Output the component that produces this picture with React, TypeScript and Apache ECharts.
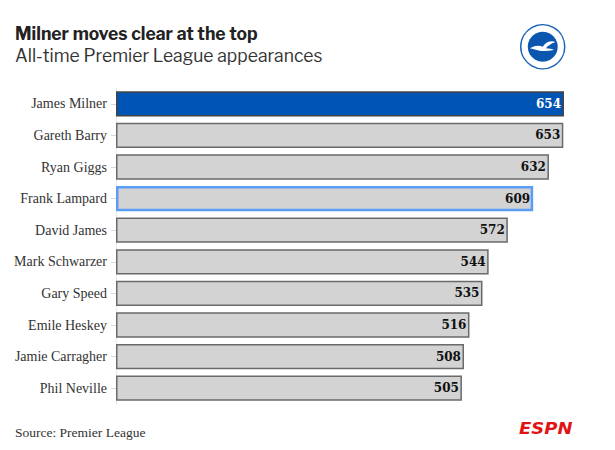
import React, { useEffect, useRef } from "react";
import * as echarts from "echarts";

const players = [
  "James Milner",
  "Gareth Barry",
  "Ryan Giggs",
  "Frank Lampard",
  "David James",
  "Mark Schwarzer",
  "Gary Speed",
  "Emile Heskey",
  "Jamie Carragher",
  "Phil Neville",
];
const appearances = [654, 653, 632, 609, 572, 544, 535, 516, 508, 505];
const highlightIndex = 0;
const outlineIndex = 3;

const titleText = "Milner moves clear at the top";
const subtitleText = "All-time Premier League appearances";
const sourceText = "Source: Premier League";

const gullPath =
  "M-16,2 C-10,-2 -4,-2 0,0 C4,-6 10,-8 16,-6 C10,-4 6,-1 4,2 C8,2 12,3 14,4 C8,5 2,6 -4,5 C-8,4 -12,3 -16,2 Z";
echarts.graphic.registerShape("gull", echarts.graphic.extendPath(gullPath as any, {}) as any);

export default function App() {
  const ref = useRef<HTMLDivElement>(null);
  useEffect(() => {
    if (!ref.current) return;
    const chart = echarts.init(ref.current, null, { renderer: "svg" });
    const data = appearances.map((v, i) => {
      if (i === highlightIndex) {
        return {
          value: v,
          itemStyle: { color: "#0054b4", borderColor: "#444", borderWidth: 1.5 },
          label: { color: "#ffffff" },
        };
      }
      if (i === outlineIndex) {
        return {
          value: v,
          itemStyle: { color: "#d3d3d3", borderColor: "#5b9cf6", borderWidth: 2.5 },
        };
      }
      return { value: v };
    });
    chart.setOption({
      animation: false,
      backgroundColor: "#ffffff",
      grid: { left: 116, right: 51, top: 88, bottom: 46, containLabel: false },
      xAxis: {
        type: "value",
        min: 0,
        max: 654,
        show: false,
      },
      yAxis: {
        type: "category",
        data: players,
        inverse: true,
        axisLine: { show: true, lineStyle: { color: "#e8e8e8", width: 1 } },
        axisTick: { show: true, length: 5, lineStyle: { color: "#d8d8d8" }, alignWithLabel: true },
        axisLabel: {
          fontFamily: "Liberation Serif, serif",
          fontSize: 14,
          color: "#333",
          margin: 9,
        },
      },
      series: [
        {
          type: "bar",
          data,
          barCategoryGap: "20%",
          itemStyle: { color: "#d3d3d3", borderColor: "#6a6a6a", borderWidth: 1.5 },
          label: {
            show: true,
            position: "insideRight",
            distance: 3,
            fontFamily: "DejaVu Serif, serif",
            fontWeight: "bold",
            fontSize: 12,
            color: "#111",
          },
        },
      ],
      graphic: [
        {
          type: "text",
          left: 15,
          top: 24,
          style: {
            text: titleText,
            fontFamily: "Libre Franklin, Inter, sans-serif",
            fontWeight: "bold",
            fontSize: 17.5,
            fill: "#222",
          },
        },
        {
          type: "text",
          left: 15,
          top: 46,
          style: {
            text: subtitleText,
            fontFamily: "Libre Franklin, Inter, sans-serif",
            fontSize: 17.5,
            fill: "#333",
          },
        },
        {
          type: "group",
          left: 520,
          top: 24,
          children: [
            { type: "circle", shape: { cx: 23, cy: 23, r: 22 }, style: { fill: "#ffffff", stroke: "#1a64b8", lineWidth: 1.5 } },
            { type: "circle", shape: { cx: 23, cy: 23, r: 15 }, style: { fill: "#0b57b0" } },
            { type: "gull", x: 23, y: 23, scaleX: 0.8, scaleY: 0.8, style: { fill: "#ffffff" } },
          ],
        },
        {
          type: "text",
          left: 15,
          top: 425,
          style: {
            text: sourceText,
            fontFamily: "Liberation Serif, serif",
            fontSize: 13.5,
            fill: "#333",
          },
        },
        {
          type: "text",
          x: 519,
          y: 422,
          scaleX: 1.2,
          scaleY: 1,
          style: {
            text: "ESPN",
            fontFamily: "DejaVu Sans, sans-serif",
            fontWeight: 900,
            fontStyle: "italic",
            fontSize: 15,
            fill: "#e01414",
          },
        },
      ],
    });
    return () => chart.dispose();
  }, []);
  return <div ref={ref} style={{ width: 615, height: 450, position: "absolute", left: 0, top: 0 }} />;
}
